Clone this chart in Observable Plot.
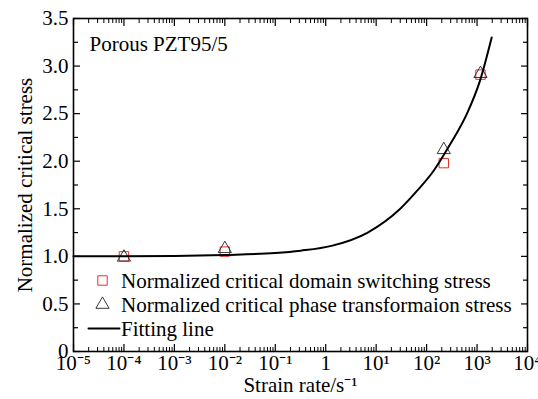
<!DOCTYPE html>
<html><head><meta charset="utf-8">
<script src="https://cdn.jsdelivr.net/npm/d3@7"></script>
<script src="https://cdn.jsdelivr.net/npm/@observablehq/plot@0.6"></script>
<style>body{margin:0;background:#fff} #chart svg{display:block}</style>
</head><body><div id="chart"></div>
<script>
// Measured points
const rates = [1e-4, 1e-2, 219, 1170];
const domainStress = [1.0, 1.05, 1.98, 2.91];
const phaseStress = [0.99, 1.08, 2.12, 2.92];
// Fitting line
const fitRates = [1e-5, 1e-4, 1e-3, 1e-2, 0.1, 0.32, 1.3, 6.8, 30, 65, 138, 295, 631, 1150, 1950];
const fitStress = [1.0, 1.0, 1.005, 1.015, 1.035, 1.06, 1.11, 1.25, 1.5, 1.69, 1.9, 2.18, 2.5, 2.85, 3.3];
// Axis ticks
const xMajor = [1e-5, 1e-4, 1e-3, 1e-2, 1e-1, 1, 10, 100, 1000, 10000];
const xLabels = ["10⁻⁵", "10⁻⁴", "10⁻³", "10⁻²", "10⁻¹", "1", "10¹", "10²", "10³", "10⁴"];
const yMajor = [0, 0.5, 1.0, 1.5, 2.0, 2.5, 3.0, 3.5];
const yLabels = ["0", "0.5", "1.0", "1.5", "2.0", "2.5", "3.0", "3.5"];
const yMinor = [0.25, 0.75, 1.25, 1.75, 2.25, 2.75, 3.25];
const legendLabels = ["Normalized critical domain switching stress", "Normalized critical phase transformaion stress", "Fitting line"];
const annotation = "Porous PZT95/5";
const xTitle = "Strain rate/s⁻¹";
const yTitle = "Normalized critical stress";

const xMinor = [];
for (let k = 0; k < xMajor.length - 1; k++) for (let m = 2; m <= 9; m++) xMinor.push(m * xMajor[k]);

const red = "#e4312b";
const points = rates.map((r, i) => ({rate: r, domain: domainStress[i], phase: phaseStress[i]}));
const fit = fitRates.map((r, i) => ({rate: r, stress: fitStress[i]}));
const xFmt = new Map(xMajor.map((v, i) => [v, xLabels[i]]));
const yFmt = new Map(yMajor.map((v, i) => [v, yLabels[i]]));
const lineShape = {draw(ctx, l) { ctx.moveTo(0, 0); ctx.lineTo(0, -l); }};
const txt = {x: null, y: null, text: d => d, fontSize: 21, lineAnchor: "middle"};

const chart = Plot.plot({
  width: 538, height: 399,
  marginLeft: 73, marginRight: 11, marginTop: 18, marginBottom: 48,
  style: {fontFamily: "'Liberation Serif', 'Times New Roman', serif", fontSize: "21px", color: "black", background: "white", overflow: "visible"},
  x: {type: "log", domain: [1e-5, 1e4]},
  y: {domain: [0, 3.5]},
  marks: [
    // tick labels
    Plot.axisX({anchor: "bottom", ticks: xMajor, tickSize: 0, tickPadding: 4, tickFormat: d => xFmt.get(d), label: null, fontSize: 21}),
    Plot.axisY({anchor: "left", ticks: yMajor, tickSize: 0, tickPadding: 5, tickFormat: d => yFmt.get(d), label: null, fontSize: 21}),
    // inward ticks
    Plot.axisX({anchor: "bottom", ticks: xMajor, tickSize: -7, fill: "none", label: null, strokeWidth: 1.2}),
    Plot.axisX({anchor: "bottom", ticks: xMinor, tickSize: -4, fill: "none", label: null, strokeWidth: 1}),
    Plot.axisX({anchor: "top", ticks: xMajor, tickSize: -7, fill: "none", label: null, strokeWidth: 1.2}),
    Plot.axisX({anchor: "top", ticks: xMinor, tickSize: -4, fill: "none", label: null, strokeWidth: 1}),
    Plot.axisY({anchor: "left", ticks: yMajor, tickSize: -7, fill: "none", label: null, strokeWidth: 1.2}),
    Plot.axisY({anchor: "left", ticks: yMinor, tickSize: -5, fill: "none", label: null, strokeWidth: 1.2}),
    Plot.axisY({anchor: "right", ticks: yMajor, tickSize: -7, fill: "none", label: null, strokeWidth: 1.2}),
    Plot.axisY({anchor: "right", ticks: yMinor, tickSize: -5, fill: "none", label: null, strokeWidth: 1.2}),
    Plot.frame({stroke: "black", strokeWidth: 1.6}),
    // data
    Plot.dot(points, {x: "rate", y: "domain", symbol: "square", r: 5.3, stroke: red, strokeWidth: 1, fill: "none"}),
    Plot.dot(points, {x: "rate", y: "phase", symbol: "triangle", r: 4.9, stroke: "#222", strokeWidth: 0.9, fill: "none"}),
    Plot.line(fit, {x: "rate", y: "stress", curve: "monotone-x", stroke: "black", strokeWidth: 2}),
    // annotation
    Plot.text([annotation], {...txt, frameAnchor: "top-left", dx: 16, dy: 26, textAnchor: "start"}),
    // legend
    Plot.dot([legendLabels[0]], {x: null, y: null, frameAnchor: "top-left", dx: 29, dy: 262, symbol: "square", r: 5.3, stroke: red, strokeWidth: 1, fill: "none"}),
    Plot.dot([legendLabels[1]], {x: null, y: null, frameAnchor: "top-left", dx: 29, dy: 286, symbol: "triangle", r: 4.9, stroke: "#222", strokeWidth: 0.9, fill: "none"}),
    Plot.vector([legendLabels[2]], {x: null, y: null, frameAnchor: "top-left", dx: 15, dy: 310, length: 31, rotate: 90, anchor: "start", shape: lineShape, stroke: "black", strokeWidth: 2}),
    Plot.text([legendLabels[0]], {...txt, frameAnchor: "top-left", dx: 47.5, dy: 262.5, textAnchor: "start"}),
    Plot.text([legendLabels[1]], {...txt, frameAnchor: "top-left", dx: 47.5, dy: 286.5, textAnchor: "start"}),
    Plot.text([legendLabels[2]], {...txt, frameAnchor: "top-left", dx: 47.5, dy: 310.5, textAnchor: "start"}),
    // axis titles
    Plot.text([xTitle], {...txt, frameAnchor: "bottom", dy: 34, textAnchor: "middle"}),
    Plot.text([yTitle], {...txt, frameAnchor: "left", dx: -48, rotate: -90, textAnchor: "middle"})
  ]
});
document.getElementById("chart").append(chart);
</script>
</body></html>
